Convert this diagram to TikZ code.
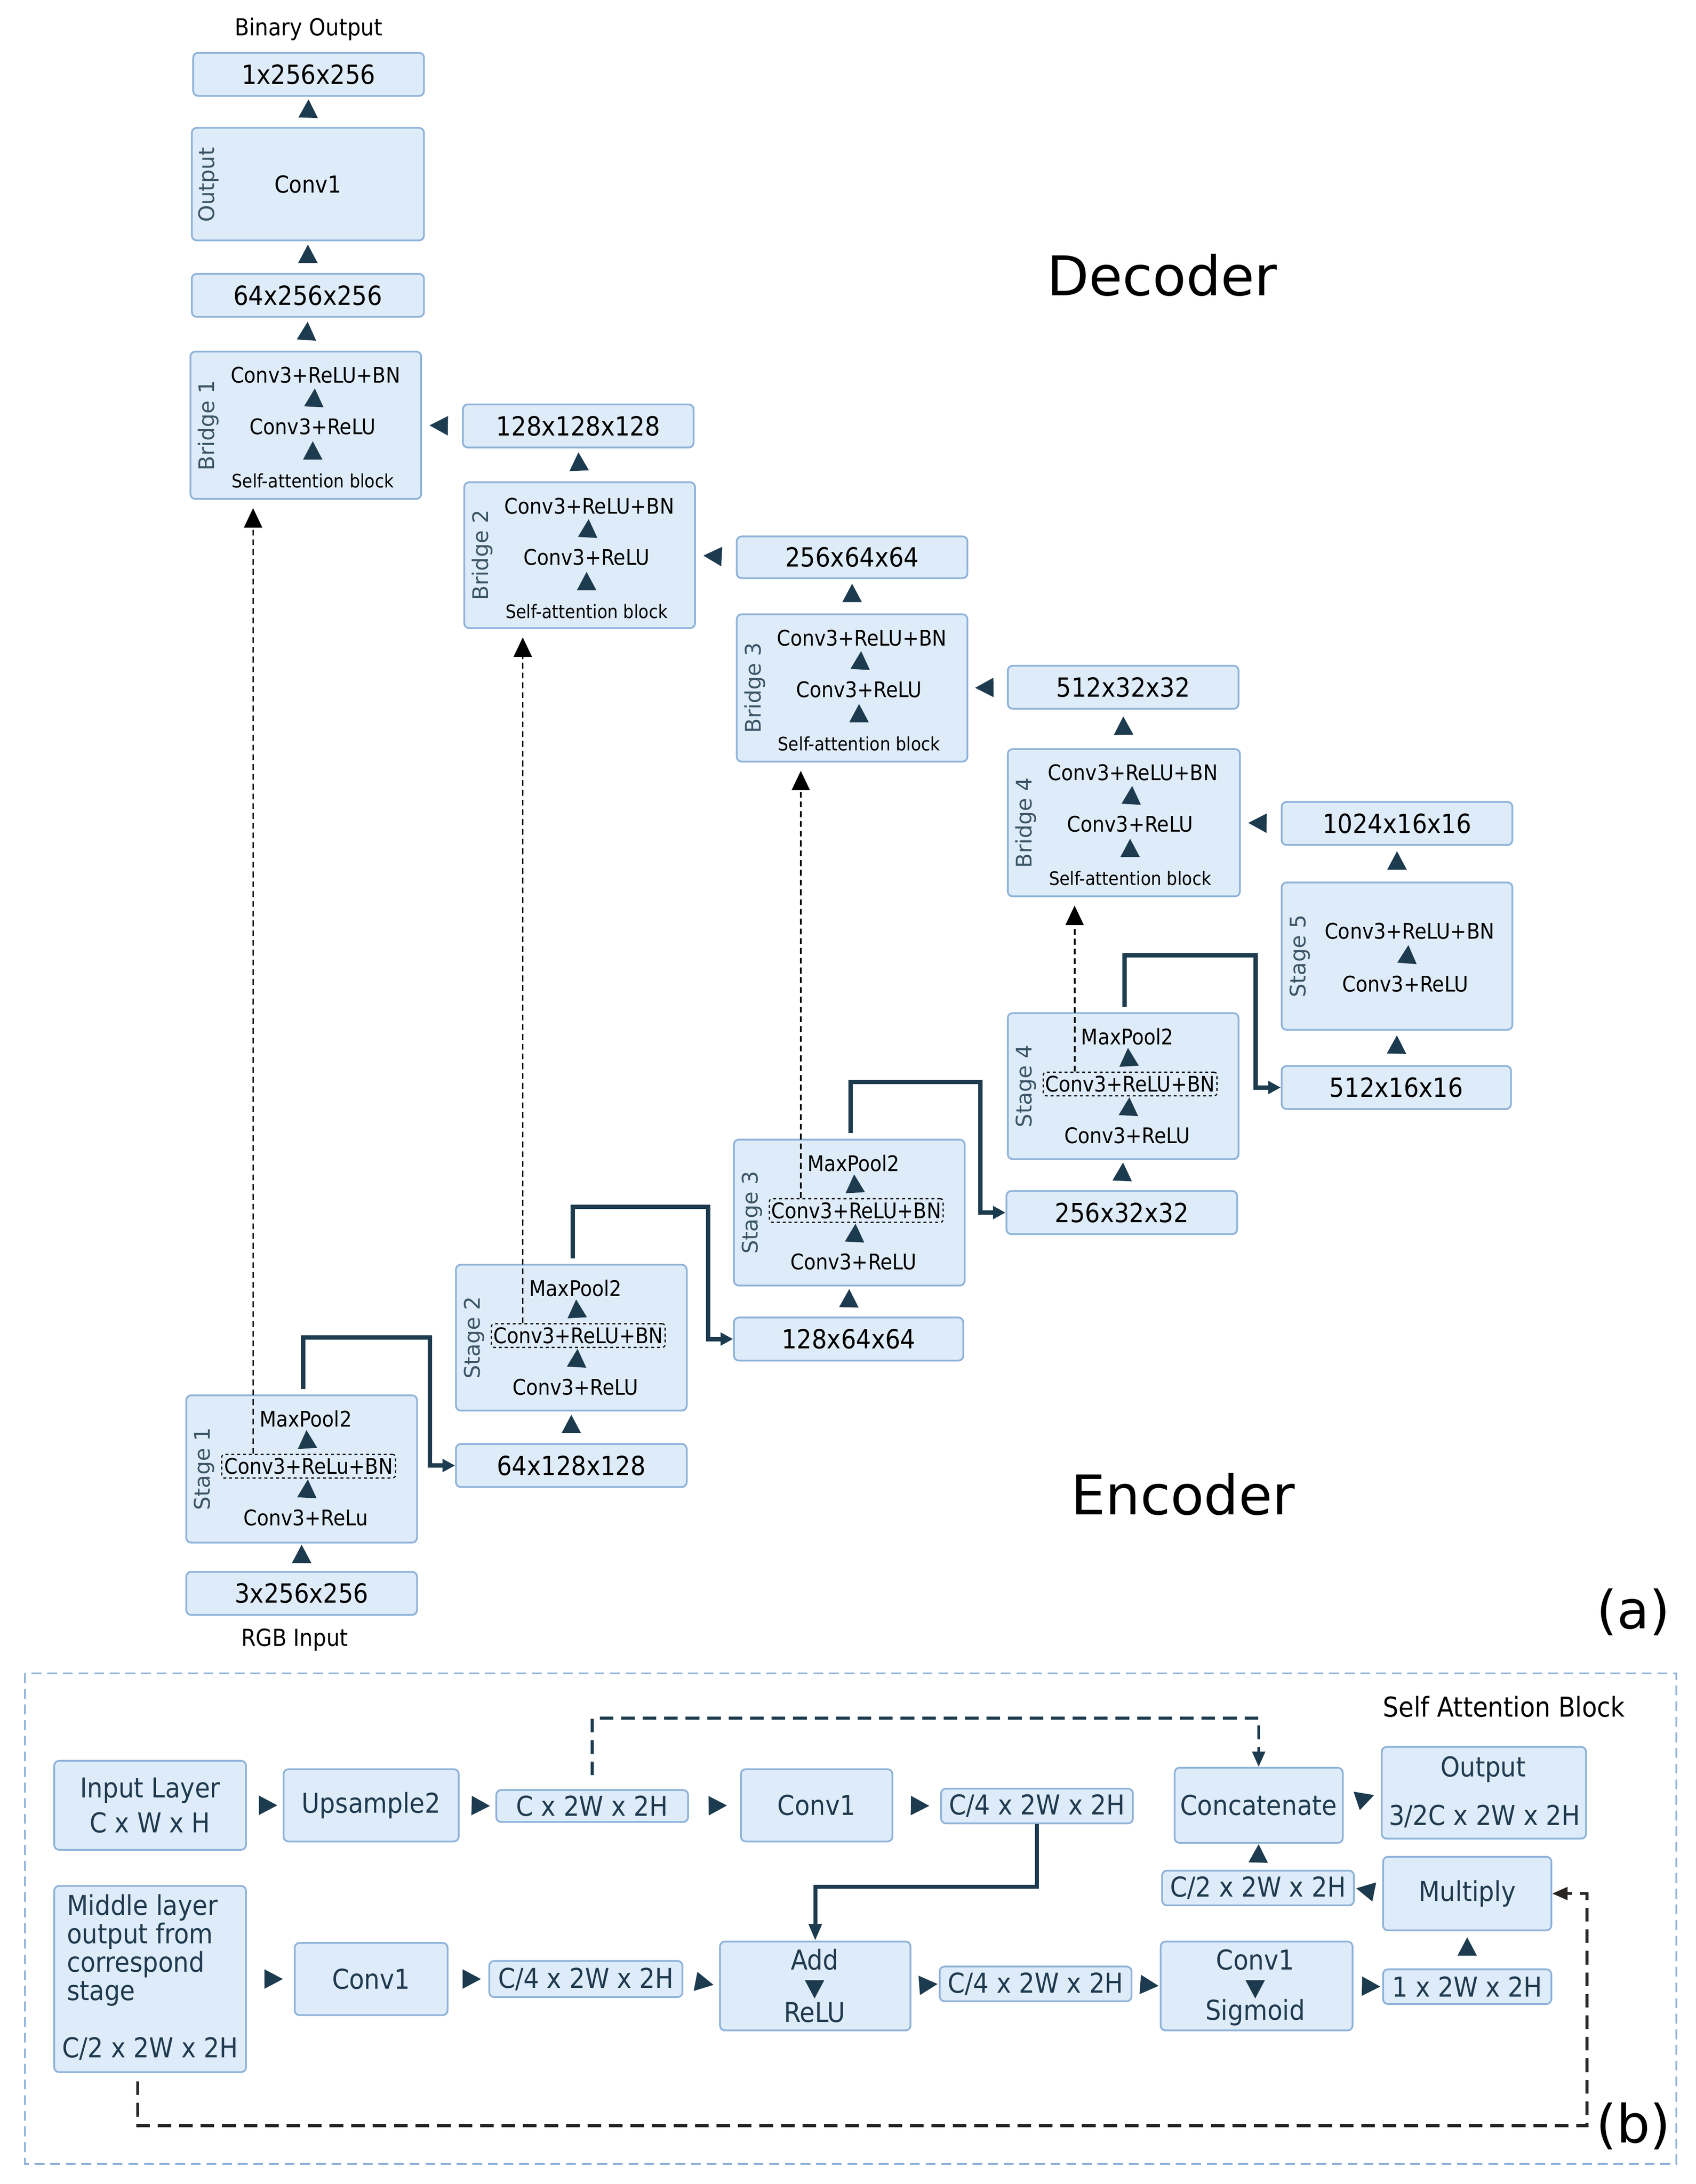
\documentclass[tikz,border=0pt]{standalone}
\usepackage{fontspec}
\setmainfont{DejaVu Sans Condensed}
\newfontfamily\wide{DejaVu Sans}
\usetikzlibrary{shapes.geometric,arrows.meta,calc}
\definecolor{bf}{HTML}{DEEBF8}
\definecolor{bd}{HTML}{8FB3DA}
\definecolor{ar}{HTML}{1D3B4F}
\definecolor{lb}{HTML}{3B5566}
\definecolor{tb}{HTML}{1F3A4F}
\definecolor{dk}{HTML}{2A2525}
\tikzset{
  box/.style={draw=bd,fill=bf,rounded corners=5pt,line width=1.8pt,inner sep=0pt},
  tri/.style={isosceles triangle,isosceles triangle stretches,fill=ar,draw=none,inner sep=0pt,
    minimum width=0.7cm,minimum height=0.66cm,sloped,allow upside down},
  s22/.style={font=\fontsize{22}{26}\selectfont,inner sep=1pt},
  s19/.style={font=\fontsize{19}{23}\selectfont,inner sep=1pt},
  s27/.style={font=\fontsize{27}{32}\selectfont},
  s28/.style={font=\fontsize{28}{34}\selectfont,text=tb},
  rot/.style={font=\wide\fontsize{22}{26}\selectfont,text=lb,rotate=90},
  dbox/.style={draw=black,dashed,line width=1.2pt,rounded corners=3pt,inner sep=0pt,
    minimum width=6.25cm,minimum height=0.85cm,font=\fontsize{22}{26}\selectfont},
  skip/.style={draw=ar,line width=4.5pt,-{Triangle[length=0.45cm,width=0.45cm]}},
  dl/.style={draw=black,line width=1.6pt,dash pattern=on 6pt off 4pt,
    -{Triangle[length=0.7cm,width=0.65cm]},shorten >=0.3cm},
  bdl/.style={draw=ar,line width=3pt,dash pattern=on 14pt off 8pt,
    -{Triangle[length=0.55cm,width=0.45cm]}},
  ths/.style={draw=ar,line width=4pt,-{Triangle[length=0.6cm,width=0.45cm]}},
}
\newcommand\tri[2]{\path (#1) -- (#2) node[tri,midway]{};}
\newcommand\bx[6]{\node[box,minimum width={(#4-#2)*0.05cm},minimum height={(#5-#3)*0.05cm}] (#1) at ({(#2+#4)/2},{(#3+#5)/2}) {#6};}
\newcommand\bridge[6]{%
  \bx{#1}{#2}{#3}{#4}{#5}{}
  \node[rot] at ({#2+13},{(#3+#5)/2}) {#6};
  \node[s22] (#1a) at ({#2+90},{#3+17}) {Conv3+ReLU+BN};
  \node[s22] (#1b) at ({#2+88},{#3+54}) {Conv3+ReLU};
  \node[s19] (#1c) at ({#2+88},{#3+93}) {Self-attention block};
  \tri{#1c.center}{#1b.center}\tri{#1b.center}{#1a.center}}
\newcommand\stage[8]{%
  \bx{#1}{#2}{#3}{#4}{#5}{}
  \node[rot] at ({#2+13},{(#3+#5)/2}) {#6};
  \node[s22] (#1m) at ({#2+86},{#3+17}) {MaxPool2};
  \node[dbox] (#1d) at ({#2+88},{#3+51}) {#7};
  \node[s22] (#1c) at ({#2+86},{#3+88}) {#8};
  \tri{#1c.center}{#1d.center}\tri{#1d.center}{#1m.center}}
\begin{document}
\begin{tikzpicture}[x=0.05cm,y=-0.05cm]
\useasboundingbox (0,0) rectangle (1220,1571.5);
% ---------- (a) decoder ----------
\node[s22,font=\fontsize{24}{28}\selectfont] at (222,21) {Binary Output};
\bx{o1}{139}{38}{305}{69}{\fontsize{27}{32}\selectfont 1x256x256}
\bx{oc}{138}{92}{305}{173}{\fontsize{24}{28}\selectfont Conv1}
\node[rot] at (150,133) {Output};
\bx{o64}{138}{197}{305}{228}{\fontsize{27}{32}\selectfont 64x256x256}
\bridge{b1}{137}{253}{303}{359}{Bridge 1}
\bx{n128}{333}{291}{499}{322}{\fontsize{27}{32}\selectfont 128x128x128}
\bridge{b2}{334}{347}{500}{452}{Bridge 2}
\bx{n256}{530}{386}{696}{416}{\fontsize{27}{32}\selectfont 256x64x64}
\bridge{b3}{530}{442}{696}{548}{Bridge 3}
\bx{n512}{725}{479}{891}{510}{\fontsize{27}{32}\selectfont 512x32x32}
\bridge{b4}{725}{539}{892}{645}{Bridge 4}
\bx{n1024}{922}{577}{1088}{608}{\fontsize{27}{32}\selectfont 1024x16x16}
\bx{s5}{922}{635}{1088}{741}{}
\node[rot] at (935,688) {Stage 5};
\node[s22] (s5a) at (1014,670) {Conv3+ReLU+BN};
\node[s22] (s5b) at (1011,708) {Conv3+ReLU};
\tri{s5b.center}{s5a.center}
\bx{e512}{922}{767}{1087}{798}{\fontsize{27}{32}\selectfont 512x16x16}
% ---------- (a) encoder ----------
\stage{s4}{725}{729}{891}{834}{Stage 4}{Conv3+ReLU+BN}{Conv3+ReLU}
\bx{e256}{724}{857}{890}{888}{\fontsize{27}{32}\selectfont 256x32x32}
\stage{s3}{528}{820}{694}{925}{Stage 3}{Conv3+ReLU+BN}{Conv3+ReLU}
\bx{e128}{528}{948}{693}{979}{\fontsize{27}{32}\selectfont 128x64x64}
\stage{s2}{328}{910}{494}{1015}{Stage 2}{Conv3+ReLU+BN}{Conv3+ReLU}
\bx{e64}{328}{1039}{494}{1070}{\fontsize{27}{32}\selectfont 64x128x128}
\stage{s1}{134}{1004}{300}{1110}{Stage 1}{Conv3+ReLu+BN}{Conv3+ReLu}
\bx{in3}{134}{1131}{300}{1162}{\fontsize{27}{32}\selectfont 3x256x256}
\node[font=\fontsize{24}{28}\selectfont] at (212,1180) {RGB Input};
\node[font=\wide\fontsize{56}{64}\selectfont] at (836,198) {Decoder};
\node[font=\wide\fontsize{56}{64}\selectfont] at (851,1075) {Encoder};
\node[font=\wide\fontsize{54}{62}\selectfont] at (1175,1160) {(a)};
% flow triangles
\tri{in3.north}{s1.south}\tri{e64.north}{s2.south}\tri{e128.north}{s3.south}
\tri{e256.north}{s4.south}\tri{e512.north}{s5.south}\tri{s5.north}{n1024.south}
\tri{n1024.west}{b4.east}\tri{b4.north}{n512.south}\tri{n512.west}{b3.east}
\tri{b3.north}{n256.south}\tri{n256.west}{b2.east}\tri{b2.north}{n128.south}
\tri{n128.west}{b1.east}\tri{b1.north}{o64.south}\tri{o64.north}{oc.south}
\tri{oc.north}{o1.south}
% skip connections
\foreach \s/\t in {s1/e64,s2/e128,s3/e256,s4/e512}{
  \draw[skip] ($(\s.north)+(1,-4)$) -- ++(0,-37) -| ($(\t.west)+(-18,0)$) -- (\t.west);
}
\foreach \s/\b in {s1/b1,s2/b2,s3/b3,s4/b4}{
  \draw[dl] ([xshift=1.15cm]\s d.north west) -- ([xshift=1.15cm]\s d.north west |- \b.south);
}
% ---------- (b) ----------
\draw[bd,line width=1.8pt,dash pattern=on 10pt off 6pt] (18,1204) rectangle (1206,1557);
\node[s28,text=black] at (1082,1228) {Self Attention Block};
\node[font=\wide\fontsize{54}{62}\selectfont] at (1175,1530) {(b)};
\bx{inL}{39}{1267}{177}{1331}{}
\node[s28,align=center] at (inL) {Input Layer\\[2pt]C x W x H};
\bx{ups}{204}{1273}{330}{1325}{\fontsize{28}{34}\selectfont\color{tb}Upsample2}
\bx{cx2}{357}{1288}{495}{1311}{\fontsize{28}{34}\selectfont\color{tb}C x 2W x 2H}
\bx{cva}{533}{1273}{642}{1325}{\fontsize{28}{34}\selectfont\color{tb}Conv1}
\bx{c4a}{677}{1287}{815}{1312}{\fontsize{28}{34}\selectfont\color{tb}C/4 x 2W x 2H}
\bx{cat}{845}{1272}{966}{1326}{\fontsize{28}{34}\selectfont\color{tb}Concatenate}
\bx{outp}{994}{1257}{1141}{1323}{}
\node[s28] at (1067,1273) {Output};
\node[s28] at (1068,1307) {3/2C x 2W x 2H};
\bx{c2}{836}{1346}{974}{1371}{\fontsize{28}{34}\selectfont\color{tb}C/2 x 2W x 2H}
\bx{mul}{995}{1336}{1116}{1389}{\fontsize{28}{34}\selectfont\color{tb}Multiply}
\bx{mid}{39}{1357}{177}{1491}{}
\node[s28,align=left,anchor=north west,inner sep=0pt,font=\fontsize{28}{29}\selectfont] at (48,1363) {Middle layer\\output from\\correspond\\stage};
\node[s28] at (108,1474) {C/2 x 2W x 2H};
\bx{cvb}{212}{1398}{322}{1450}{\fontsize{28}{34}\selectfont\color{tb}Conv1}
\bx{c4b}{352}{1411}{491}{1437}{\fontsize{28}{34}\selectfont\color{tb}C/4 x 2W x 2H}
\bx{add}{518}{1397}{655}{1461}{}
\node[s28,inner sep=0pt] (adda) at (586,1410) {Add};
\node[s28,inner sep=0pt] (addb) at (586,1448) {ReLU};
\tri{adda.center}{addb.center}
\bx{c4c}{676}{1415}{814}{1440}{\fontsize{28}{34}\selectfont\color{tb}C/4 x 2W x 2H}
\bx{sig}{835}{1397}{973}{1461}{}
\node[s28,inner sep=0pt] (siga) at (903,1410) {Conv1};
\node[s28,inner sep=0pt] (sigb) at (903,1448) {Sigmoid};
\tri{siga.center}{sigb.center}
\bx{onex}{995}{1417}{1116}{1442}{\fontsize{28}{34}\selectfont\color{tb}1 x 2W x 2H}
\tri{inL.east}{ups.west}\tri{ups.east}{cx2.west}\tri{cx2.east}{cva.west}
\tri{cva.east}{c4a.west}\tri{cat.east}{outp.west}\tri{mid.east}{cvb.west}
\tri{cvb.east}{c4b.west}\tri{c4b.east}{add.west}\tri{add.east}{c4c.west}
\tri{c4c.east}{sig.west}\tri{sig.east}{onex.west}\tri{onex.north}{mul.south}
\tri{mul.west}{c2.east}\tri{c2.north}{cat.south}
\draw[ths] (c4a.south) -- ++(0,45) -| (add.north);
\draw[bdl,shorten <=0.5cm] (cx2.north) -- ++(0,-51) -| (cat.north);
\draw[bdl,draw=dk,shorten <=0.3cm] ([xshift=-0.45cm]mid.south) -- ++(0,38) -| ($(mul.east)+(25,0)$) -- (mul.east);
\end{tikzpicture}
\end{document}
